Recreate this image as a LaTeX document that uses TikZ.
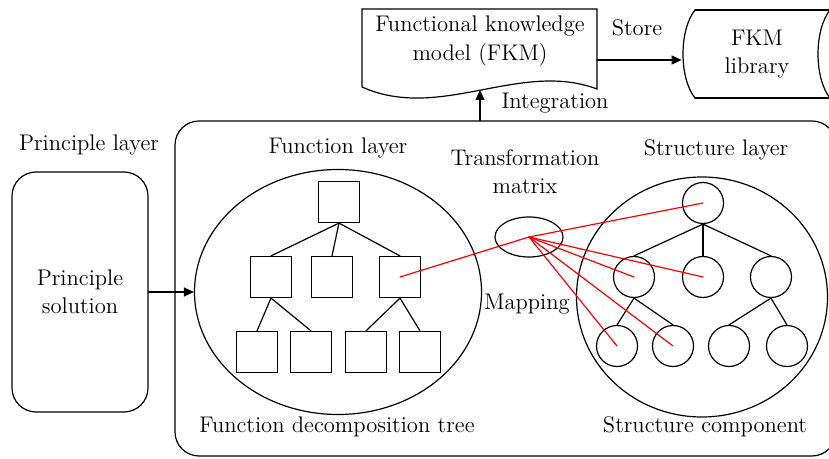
\documentclass[tikz,border=0pt]{standalone}
\usetikzlibrary{shapes.geometric,arrows.meta,positioning}

\begin{document}
\begin{tikzpicture}[x=0.5pt,y=-0.5pt,line cap=round,
  every node/.style={font=\fontsize{11.3}{14}\selectfont},
  fbox/.style={draw,line width=0.6pt,minimum size=20.5pt,inner sep=0pt},
  sball/.style={draw,circle,line width=0.6pt,minimum size=20.5pt,inner sep=0pt},
  layer/.style={draw,ellipse,line width=0.6pt,inner sep=0pt},
  link/.style={line width=0.6pt},
  map/.style={red,line width=0.6pt},
  arr/.style={-{Triangle[length=5pt,width=4.5pt]},line width=0.6pt}]
  \clip (0,0) rectangle (829,459);

  % knowledge model and library
  \draw[link] (362,87) -- (362,9) -- (597,9) -- (597,89)
    .. controls (520,60) and (440,122) .. (362,87);
  \node[align=center] (fkm) at (480,41) {Functional knowledge\\model (FKM)};
  \node[align=center,minimum width=75pt] (lib) at (757,54) {FKM\\library};
  \draw[link] (695,10) -- (840,10) (695,98) -- (840,98);
  \draw[link] (695,10) .. controls (679,30) and (679,78) .. (695,98);
  \draw[link] (830,10) .. controls (814,30) and (814,78) .. (830,98);
  \coordinate (store) at (597,60);
  \draw[arr] (store) -- (store -| lib.west);
  \node (storelbl) at (637,28) {Store};

  % principle layer
  \node (plabel) at (89,145) {Principle layer};
  \node[draw,link,rounded corners=12pt,minimum width=68pt,minimum height=120pt,
    align=center] (prin) at (80,292) {Principle\\solution};

  % design area
  \node[draw,link,rounded corners=12pt,minimum width=330.5pt,minimum height=167.5pt]
    (design) at (505.5,288.5) {};
  \coordinate (integ) at (480,90);
  \draw[arr] (integ |- design.north) -- (integ);
  \node (intlbl) at (555,103) {Integration};

  % function layer
  \node (flabel) at (338,148) {Function layer};
  \node[layer,minimum width=143.5pt,minimum height=122.5pt] (func) at (338,292) {};
  \draw[arr] (prin.east) -- (func.west);
  \node[fbox] (f0) at (339,202) {};
  \foreach \n/\x in {1/271,2/332,3/400}
    \node[fbox] (f\n) at (\x,277) {};
  \foreach \n/\x in {4/257,5/311,6/366,7/420}
    \node[fbox] (f\n) at (\x,352) {};
  \foreach \a/\b in {0/1,0/2,0/3,1/4,1/5,3/6,3/7}
    \draw[link] (f\a.south) -- (f\b.north);
  \node (ftree) at (337,427) {Function decomposition tree};

  % transformation matrix
  \node[align=center] (tmlbl) at (525,172) {Transformation\\matrix};
  \node[layer,minimum width=34pt,minimum height=20pt] (tm) at (529,237) {};
  \node (maplbl) at (527,304) {Mapping};

  % structure layer
  \node (slabel) at (716,150) {Structure layer};
  \node[layer,minimum width=125.5pt,minimum height=120pt] (struc) at (702,297) {};
  \node[sball] (s0) at (703,203) {};
  \foreach \n/\x in {1/634,2/703,3/771}
    \node[sball] (s\n) at (\x,277) {};
  \foreach \n/\x in {4/617,5/673,6/729,7/787}
    \node[sball] (s\n) at (\x,346) {};
  \foreach \a/\b in {0/1,0/2,0/3,1/4,1/5,3/6,3/7}
    \draw[link] (s\a.south) -- (s\b.north);
  \node (scomp) at (705,427) {Structure component};

  % mapping lines
  \draw[map] (tm.center) -- (f3.center);
  \foreach \b in {0,1,2,4,5}
    \draw[map] (tm.center) -- (s\b.center);
\end{tikzpicture}
\end{document}
